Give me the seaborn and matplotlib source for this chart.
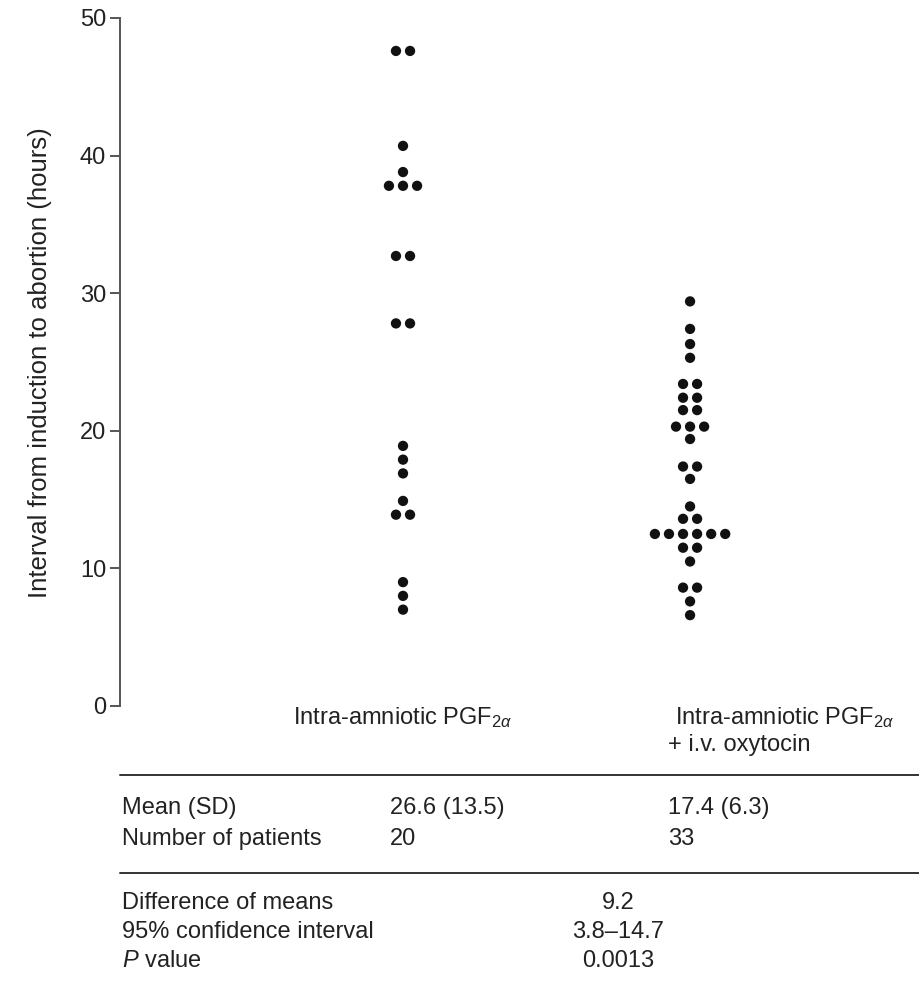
import pandas as pd
import matplotlib
matplotlib.use("Agg")
import matplotlib.pyplot as plt
from matplotlib.lines import Line2D
import seaborn as sns

# values (hours)
pgf_only = [47.6, 47.6, 40.7, 38.8, 37.8, 37.8, 37.8, 32.7, 32.7, 27.8, 27.8,
            18.9, 17.9, 16.9, 14.9, 13.9, 13.9, 9.0, 8.0, 7.0]
pgf_oxytocin = [29.4, 27.4, 26.3, 25.3, 23.4, 23.4, 22.4, 22.4, 21.5, 21.5,
                20.3, 20.3, 20.3, 19.4, 17.4, 17.4, 16.5, 14.5, 13.6, 13.6,
                12.5, 12.5, 12.5, 12.5, 12.5, 12.5, 11.5, 11.5, 10.5,
                8.6, 8.6, 7.6, 6.6]
group_line1 = ["Intra-amniotic PGF$_{2\\alpha}$", "Intra-amniotic PGF$_{2\\alpha}$"]
group_line2 = ["", "+ i.v. oxytocin"]

table_rows = ["Mean (SD)", "Number of patients"]
table_left = ["26.6 (13.5)", "20"]
table_right = ["17.4 (6.3)", "33"]
diff_rows = ["Difference of means", "95% confidence interval", "$P$ value"]
diff_vals = ["9.2", "3.8\u201314.7", "0.0013"]

sns.set_style("white")
plt.rcParams["font.family"] = ["Liberation Sans Narrow", "Liberation Sans", "DejaVu Sans"]
plt.rcParams["mathtext.fontset"] = "custom"
plt.rcParams["mathtext.rm"] = "Liberation Sans"
plt.rcParams["mathtext.it"] = "Liberation Sans:italic"

df = pd.concat([
    pd.DataFrame({"group": 0, "hours": pgf_only}),
    pd.DataFrame({"group": 1, "hours": pgf_oxytocin}),
], ignore_index=True)

# dot-plot layout: equal values sit side by side, centred on the group
spacing = 0.049
rank = df.groupby(["group", "hours"]).cumcount()
count = df.groupby(["group", "hours"])["hours"].transform("size")
df["x"] = df["group"] + (rank - (count - 1) / 2) * spacing

fig = plt.figure(figsize=(9.2, 9.9), dpi=100)
ax = fig.add_axes([0.1304, 0.2869, 0.8696, 0.6950])

sns.scatterplot(data=df, x="x", y="hours", ax=ax, color="#111111",
                s=55, edgecolor="none", legend=False)

ax.set_xlim(-0.986, 1.801)
ax.set_ylim(0, 50)
ax.set_yticks(range(0, 51, 10))
ax.set_xticks([])
ax.set_xlabel("")
ax.set_ylabel("")
for side in ["top", "right", "bottom"]:
    ax.spines[side].set_visible(False)
ax.spines["left"].set_color("#555555")
ax.spines["left"].set_linewidth(1.4)
ax.tick_params(axis="y", direction="out", length=7, width=1.4, color="#555555",
               labelsize=17, labelcolor="#222222", pad=3, left=True)

fig.text(40 / 920, 1 - 363 / 990, "Interval from induction to abortion (hours)",
         rotation=90, ha="center", va="center", fontsize=18.5, color="#222222")

# group labels under the axis
lab = dict(va="center", fontsize=17, color="#222222", clip_on=False)
ax.text(0, -0.87, group_line1[0], ha="center", **lab)
ax.text(1.33, -0.87, group_line1[1], ha="center", **lab)
ax.text(1.17, -2.85, group_line2[1], ha="center", **lab)

# summary table
line_kw = dict(color="#333333", lw=1.4, transform=fig.transFigure)
fig.add_artist(Line2D([120 / 920, 1.0], [1 - 775 / 990] * 2, **line_kw))
fig.add_artist(Line2D([120 / 920, 1.0], [1 - 873 / 990] * 2, **line_kw))

txt = dict(fontsize=17, color="#222222", va="center")
for i, (row, a, b) in enumerate(zip(table_rows, table_left, table_right)):
    y = 1 - (808 + 31 * i) / 990
    fig.text(122 / 920, y, row, ha="left", **txt)
    fig.text(390 / 920, y, a, ha="left", **txt)
    fig.text(668 / 920, y, b, ha="left", **txt)

for i, (row, v) in enumerate(zip(diff_rows, diff_vals)):
    y = 1 - (903 + 29 * i) / 990
    fig.text(122 / 920, y, row, ha="left", **txt)
    fig.text(618 / 920, y, v, ha="center", **txt)

fig.savefig("out.png", dpi=100)
